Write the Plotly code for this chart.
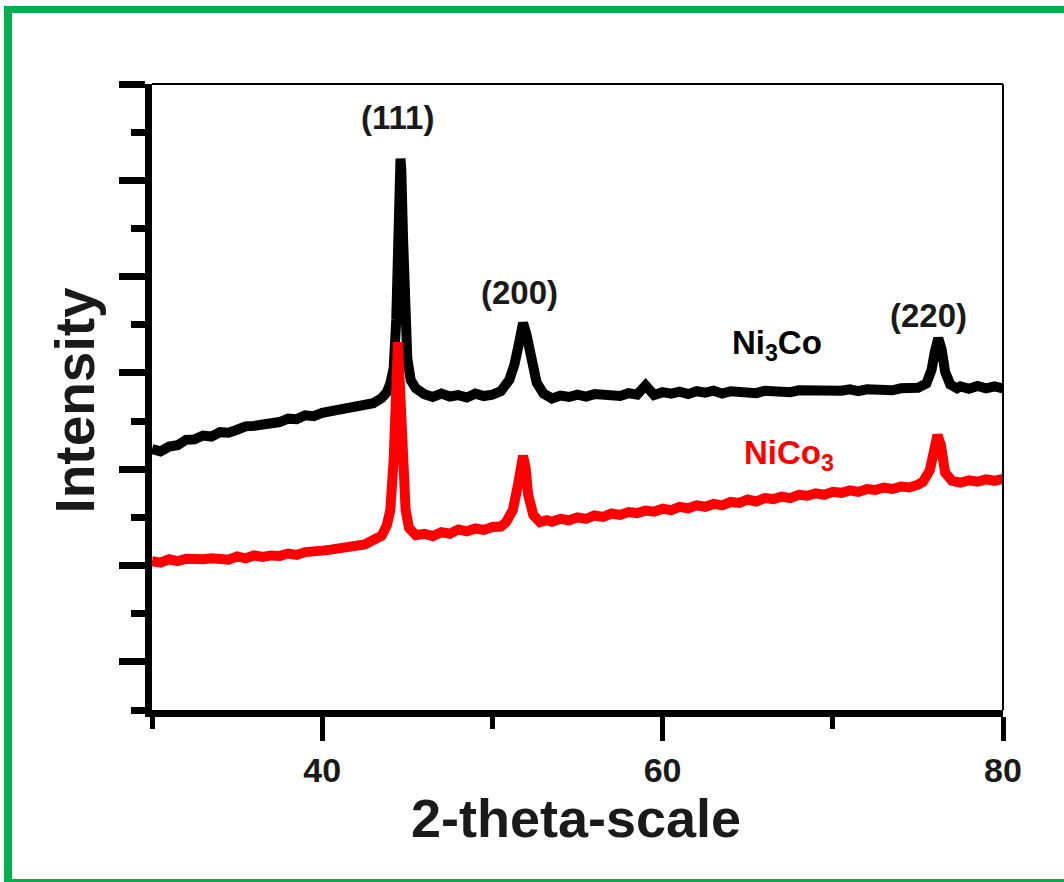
import plotly.graph_objects as go

# ---- data ----
ni3co_x = [30, 30.5, 31, 31.5, 32, 32.5, 33, 33.5, 34, 34.5, 35, 35.5, 36, 36.5, 37, 37.5,
           38, 38.5, 39, 39.5, 40, 40.5, 41, 41.5, 42, 42.5, 43, 43.5, 43.8, 44.0, 44.2, 44.35,
           44.45, 44.55, 44.6, 44.65, 44.75, 44.85, 45.0, 45.2, 45.5, 46, 46.5, 47, 47.5, 48,
           48.5, 49, 49.5, 50, 50.5, 51.0, 51.3, 51.6, 51.8, 52.0, 52.3, 52.6, 53.0, 53.5, 54,
           54.5, 55, 55.5, 56, 56.5, 57, 57.5, 58, 58.5, 59, 59.3, 59.5, 60, 60.5, 61, 61.5, 62,
           62.5, 63, 63.5, 64, 64.5, 65, 65.5, 66, 66.5, 67, 67.5, 68, 68.5, 69, 69.5, 70, 70.5,
           71, 71.5, 72, 72.5, 73, 73.5, 74, 74.5, 75, 75.5, 75.8, 76.0, 76.2, 76.4, 76.6, 76.9,
           77.3, 77.5, 78, 78.5, 79, 79.5, 80]
ni3co_y = [5.42, 5.37, 5.47, 5.50, 5.61, 5.62, 5.70, 5.68, 5.77, 5.76, 5.82, 5.89, 5.90, 5.92,
           5.99, 5.98, 6.05, 6.04, 6.12, 6.10, 6.17, 6.20, 6.21, 6.25, 6.27, 6.32, 6.37, 6.48,
           6.60, 6.78, 7.10, 8.10, 9.6, 11.1, 11.45, 11.2, 9.8, 8.3, 7.3, 6.85, 6.68, 6.56, 6.50,
           6.57, 6.51, 6.54, 6.49, 6.57, 6.52, 6.55, 6.62, 6.86, 7.18, 7.68, 8.04, 7.80, 7.22,
           6.80, 6.57, 6.47, 6.53, 6.50, 6.55, 6.51, 6.56, 6.54, 6.57, 6.52, 6.58, 6.55, 6.74,
           6.57, 6.54, 6.60, 6.57, 6.61, 6.56, 6.62, 6.59, 6.63, 6.57, 6.62, 6.60, 6.63, 6.58,
           6.63, 6.61, 6.64, 6.60, 6.64, 6.63, 6.65, 6.61, 6.65, 6.63, 6.66, 6.62, 6.66, 6.64,
           6.67, 6.64, 6.68, 6.67, 6.69, 6.78, 7.06, 7.45, 7.72, 7.48, 7.02, 6.76, 6.68, 6.72,
           6.67, 6.73, 6.68, 6.72, 6.68]

nico3_x = [30, 30.5, 31, 31.5, 32, 32.5, 33, 33.5, 34, 34.5, 35, 35.5, 36, 36.5, 37, 37.5,
           38, 38.5, 39, 39.5, 40, 40.5, 41, 41.5, 42, 42.5, 43, 43.5, 43.8, 44.0, 44.2, 44.35,
           44.45, 44.55, 44.7, 44.9, 45.1, 45.5, 46, 46.5, 47, 47.5, 48, 48.5, 49, 49.5, 50,
           50.5, 50.8, 51.2, 51.5, 51.7, 51.8, 51.95, 52.1, 52.4, 52.8, 53.2, 53.5, 54, 54.5,
           55, 55.5, 56, 56.5, 57, 57.5, 58, 58.5, 59, 59.5, 60, 60.5, 61, 61.5, 62, 62.5, 63,
           63.5, 64, 64.5, 65, 65.5, 66, 66.5, 67, 67.5, 68, 68.5, 69, 69.5, 70, 70.5, 71, 71.5,
           72, 72.5, 73, 73.5, 74, 74.5, 75, 75.3, 75.7, 75.95, 76.15, 76.35, 76.6, 77.0, 77.5,
           78, 78.5, 79, 79.5, 80]
nico3_y = [3.09, 3.06, 3.13, 3.09, 3.14, 3.12, 3.13, 3.15, 3.16, 3.12, 3.19, 3.15, 3.21, 3.18,
           3.21, 3.20, 3.25, 3.22, 3.28, 3.27, 3.31, 3.33, 3.35, 3.37, 3.43, 3.44, 3.53, 3.62,
           3.84, 4.15, 5.2, 6.85, 7.64, 6.85, 5.2, 4.15, 3.78, 3.63, 3.66, 3.61, 3.69, 3.66,
           3.75, 3.71, 3.77, 3.74, 3.80, 3.81, 3.90, 4.15, 4.67, 5.19, 5.28, 5.03, 4.47, 4.05,
           3.90, 3.94, 3.91, 3.97, 3.94, 4.00, 3.97, 4.04, 4.01, 4.08, 4.05, 4.11, 4.09, 4.14,
           4.12, 4.18, 4.15, 4.22, 4.19, 4.25, 4.22, 4.28, 4.25, 4.32, 4.30, 4.37, 4.33, 4.40,
           4.38, 4.43, 4.40, 4.47, 4.45, 4.50, 4.47, 4.53, 4.51, 4.56, 4.53, 4.59, 4.57, 4.62,
           4.59, 4.64, 4.62, 4.68, 4.74, 4.98, 5.50, 5.71, 5.50, 4.93, 4.76, 4.72, 4.77, 4.74,
           4.79, 4.76, 4.80]

peak_labels = ["(111)", "(200)", "(220)"]
peak_label_x = [44.4, 51.6, 75.65]
peak_label_y = [12.3, 8.66, 8.2]

series_labels = ["Ni<sub>3</sub>Co", "NiCo<sub>3</sub>"]
series_label_x = [66.7, 67.4]
series_label_y = [7.58, 5.30]
series_colors = ["#000000", "#ff0000"]

FONT = "Arial, Liberation Sans, sans-serif"
GREEN = "#00b050"

fig = go.Figure()
fig.add_trace(go.Scatter(x=ni3co_x, y=ni3co_y, mode="lines",
                         line=dict(color=series_colors[0], width=10), name="Ni3Co"))
fig.add_trace(go.Scatter(x=nico3_x, y=nico3_y, mode="lines",
                         line=dict(color=series_colors[1], width=10), name="NiCo3"))

annotations = []
for t, x, y in zip(peak_labels, peak_label_x, peak_label_y):
    annotations.append(dict(x=x, y=y, xref="x", yref="y", text=t, showarrow=False,
                            font=dict(family=FONT, size=33, color="#1a1a1a", weight="bold")))
for t, x, y, c in zip(series_labels, series_label_x, series_label_y, series_colors):
    annotations.append(dict(x=x, y=y, xref="x", yref="y", text=t, showarrow=False,
                            font=dict(family=FONT, size=33, color=c, weight="bold")))
# axis titles
annotations.append(dict(x=0.4978, y=-0.173, xref="paper", yref="paper", text="2-theta-scale",
                        showarrow=False, xanchor="center", yanchor="middle",
                        font=dict(family=FONT, size=54, color="#1a1a1a", weight="bold")))
annotations.append(dict(x=-0.09, y=0.495, xref="paper", yref="paper", text="Intensity",
                        showarrow=False, textangle=-90, xanchor="center", yanchor="middle",
                        font=dict(family=FONT, size=55, color="#1a1a1a", weight="bold")))

W, H = 1064, 882
L, R, T, B = 152, 61, 84, 172
pw, ph = W - L - R, H - T - B


def px(x):
    return (x - L) / pw


def py(y):
    return (H - B - y) / ph


shapes = [
    dict(type="line", xref="paper", yref="paper", x0=0, x1=1, y0=1, y1=1,
         line=dict(color="black", width=2)),
    dict(type="line", xref="paper", yref="paper", x0=1, x1=1, y0=0, y1=1,
         line=dict(color="black", width=2)),
    # green frame
    dict(type="line", xref="paper", yref="paper", x0=px(8), x1=px(8), y0=py(6), y1=py(882),
         line=dict(color=GREEN, width=8)),
    dict(type="line", xref="paper", yref="paper", x0=px(4), x1=px(1070), y0=py(9.5), y1=py(9.5),
         line=dict(color=GREEN, width=7)),
    dict(type="line", xref="paper", yref="paper", x0=px(4), x1=px(1070), y0=py(880.5), y1=py(880.5),
         line=dict(color=GREEN, width=3)),
]

fig.update_layout(
    width=W, height=H,
    margin=dict(l=L, r=R, t=T, b=B),
    paper_bgcolor="white", plot_bgcolor="white",
    showlegend=False,
    annotations=annotations,
    shapes=shapes,
    xaxis=dict(range=[30, 80], tick0=0, dtick=20, ticks="outside", ticklen=24, tickwidth=5,
               tickcolor="black", showline=True, linewidth=7, linecolor="black",
               showgrid=False, zeroline=False,
               minor=dict(tick0=0, dtick=10, ticks="outside", ticklen=12, tickwidth=5,
                          tickcolor="black", showgrid=False),
               tickfont=dict(family=FONT, size=34, color="#1a1a1a", weight="bold"),
               ticklabelstandoff=0),
    yaxis=dict(range=[0, 13], tick0=1, dtick=2, ticks="outside", ticklen=26, tickwidth=7,
               tickcolor="black", showline=True, linewidth=7, linecolor="black",
               showgrid=False, zeroline=False, showticklabels=False,
               minor=dict(tick0=0, dtick=1, ticks="outside", ticklen=14, tickwidth=7,
                          tickcolor="black", showgrid=False)),
)

fig.write_html("out.html", config={"displayModeBar": False},
               post_script="document.body.style.margin='0px';document.body.style.overflow='hidden';")
